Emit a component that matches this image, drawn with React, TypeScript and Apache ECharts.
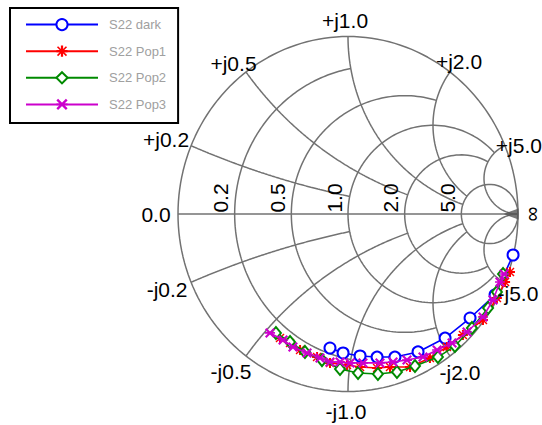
import React, { useEffect, useRef } from 'react';
import * as echarts from 'echarts';

// ---- data: S22 reflection coefficients (real / imaginary parts) ----
const seriesNames = ['S22 dark', 'S22 Pop1', 'S22 Pop2', 'S22 Pop3'];

const darkRe = [-0.106, -0.029, 0.071, 0.171, 0.276, 0.412, 0.571, 0.718, 0.865, 0.971];
const darkIm = [-0.755, -0.783, -0.8, -0.806, -0.806, -0.777, -0.699, -0.586, -0.456, -0.231];

const pop1Re = [-0.4, -0.341, -0.282, -0.182, -0.106, -0.006, 0.071, 0.171, 0.247, 0.365, 0.482, 0.582, 0.676, 0.794, 0.876, 0.924, 0.953];
const pop1Im = [-0.699, -0.727, -0.766, -0.806, -0.839, -0.851, -0.862, -0.868, -0.862, -0.862, -0.811, -0.749, -0.682, -0.597, -0.473, -0.383, -0.327];

const pop2Re = [-0.424, -0.341, -0.253, -0.153, -0.047, 0.059, 0.176, 0.288, 0.394, 0.529, 0.629, 0.729, 0.824, 0.876, 0.912];
const pop2Im = [-0.67, -0.721, -0.777, -0.823, -0.873, -0.896, -0.901, -0.89, -0.856, -0.806, -0.744, -0.642, -0.53, -0.439, -0.338];

const pop3Re = [-0.459, -0.382, -0.324, -0.241, -0.165, -0.106, -0.047, 0.012, 0.088, 0.188, 0.265, 0.347, 0.441, 0.524, 0.612, 0.7, 0.794, 0.853, 0.894, 0.918];
const pop3Im = [-0.67, -0.71, -0.749, -0.783, -0.811, -0.834, -0.834, -0.839, -0.839, -0.839, -0.834, -0.823, -0.806, -0.766, -0.727, -0.665, -0.58, -0.485, -0.383, -0.338];

// ---- Smith grid definition ----
const gridValues = [0.2, 0.5, 1.0, 2.0, 5.0];
const gridLimits = [1, 2, 5, 5, Infinity]; // extent of each circle / arc
const resistanceLabels = ['0.2', '0.5', '1.0', '2.0', '5.0'];
const posReactanceLabels = ['+j0.2', '+j0.5', '+j1.0', '+j2.0', '+j5.0'];
const negReactanceLabels = ['-j0.2', '-j0.5', '-j1.0', '-j2.0', '-j5.0'];
const zeroLabel = '0.0';
const infLabel = '\u221E';

// ---- layout / style ----
const W = 542;
const H = 425;
const GRID = { left: 178, top: 36.5, width: 340, height: 355 };
const POS_OFF = [[-25, -6], [-12.5, -8.5], [-3, -16.5], [9, -11], [14, 0]];
const NEG_OFF = [[-24, 7], [-15, 15], [-2, 20], [10, 16], [13, 11]];
const RES_OFF = [-14, -16];
const GRID_COLOR = '#727272';
const FONT = '21px "Liberation Sans", Arial, sans-serif';

const gamma = (r: number, x: number): [number, number] => {
  if (!isFinite(r)) return [1, 0];
  const den = (r + 1) * (r + 1) + x * x;
  return [(r * r - 1 + x * x) / den, (2 * x) / den];
};

function resistanceCircle(r: number, xLim: number): [number, number][] {
  const sMax = isFinite(xLim) ? Math.atan(xLim) : Math.PI / 2;
  const pts: [number, number][] = [];
  const N = 180;
  for (let i = 0; i <= N; i++) {
    const s = -sMax + (2 * sMax * i) / N;
    const x = Math.abs(Math.abs(s) - Math.PI / 2) < 1e-9 ? (s > 0 ? 1e9 : -1e9) : Math.tan(s);
    pts.push(gamma(r, x));
  }
  return pts;
}

function reactanceArc(x: number, rLim: number): [number, number][] {
  const tMax = isFinite(rLim) ? rLim / (1 + rLim) : 1;
  const pts: [number, number][] = [];
  const N = 160;
  for (let i = 0; i <= N; i++) {
    const t = (tMax * i) / N;
    const r = t >= 1 ? Infinity : t / (1 - t);
    pts.push(gamma(r, x));
  }
  return pts;
}

const zip = (a: number[], b: number[]) => a.map((v, i) => [v, b[i]]);

const starPath =
  'path://M4,0 L6,0 L6,10 L4,10 Z M0,4 L10,4 L10,6 L0,6 Z M1.5,0.5 L9.5,8.5 L8.5,9.5 L0.5,1.5 Z M8.5,0.5 L9.5,1.5 L1.5,9.5 L0.5,8.5 Z';
const xPath =
  'path://M0,1.5 L1.5,0 L10,8.5 L8.5,10 Z M8.5,0 L10,1.5 L1.5,10 L0,8.5 Z M0,4.2 L10,4.2 L10,5.8 L0,5.8 Z';
const triPath = 'path://M0,5 L10,0 L10,10 Z';

export default function App() {
  const ref = useRef<HTMLDivElement>(null);

  useEffect(() => {
    if (!ref.current) return;
    const chart = echarts.init(ref.current, null, { renderer: 'svg' });

    const gridSeries: any[] = [];
    const gridLine = (data: [number, number][]) => ({
      type: 'line',
      data,
      showSymbol: false,
      symbol: 'none',
      silent: true,
      clip: false,
      z: 1,
      lineStyle: { color: GRID_COLOR, width: 1.5 },
      emphasis: { disabled: true },
    });
    gridSeries.push(gridLine(resistanceCircle(0, Infinity)));
    gridSeries.push(gridLine([gamma(0, 0), gamma(Infinity, 0)]));
    gridValues.forEach((v, i) => {
      gridSeries.push(gridLine(resistanceCircle(v, gridLimits[i])));
      gridSeries.push(gridLine(reactanceArc(v, gridLimits[i])));
      gridSeries.push(gridLine(reactanceArc(-v, gridLimits[i])));
    });

    const dataSeries = [
      {
        name: seriesNames[0],
        data: zip(darkRe, darkIm),
        color: '#0000ff',
        symbol: 'emptyCircle',
        symbolSize: 11,
      },
      {
        name: seriesNames[1],
        data: zip(pop1Re, pop1Im),
        color: '#ff0000',
        symbol: starPath,
        symbolSize: 10,
      },
      {
        name: seriesNames[2],
        data: zip(pop2Re, pop2Im),
        color: '#008a00',
        symbol: 'emptyDiamond',
        symbolSize: [10, 12],
      },
      {
        name: seriesNames[3],
        data: zip(pop3Re, pop3Im),
        color: '#cc00cc',
        symbol: xPath,
        symbolSize: 10,
      },
    ].map((s, i) => ({
      type: 'line',
      name: s.name,
      data: s.data,
      symbol: s.symbol,
      symbolSize: s.symbolSize,
      showAllSymbol: true,
      clip: false,
      z: 3 + i,
      itemStyle: { color: s.color, borderWidth: 1.6 },
      lineStyle: { color: s.color, width: 1.6 },
    }));

    const infMarker = {
      type: 'scatter',
      name: 'inf',
      data: [gamma(Infinity, 0)],
      symbol: triPath,
      symbolSize: [15, 11],
      symbolOffset: [-7, 0],
      itemStyle: { color: '#555555' },
      silent: true,
      clip: false,
      z: 2,
    };

    chart.setOption({
      animation: false,
      backgroundColor: '#ffffff',
      grid: { left: GRID.left, top: GRID.top, width: GRID.width, height: GRID.height, containLabel: false },
      xAxis: { type: 'value', min: -1, max: 1, show: false, splitLine: { show: false } },
      yAxis: { type: 'value', min: -1, max: 1, show: false, splitLine: { show: false } },
      legend: {
        data: seriesNames,
        orient: 'vertical',
        left: 10,
        top: 8,
        padding: [10, 12, 12, 15],
        itemWidth: 72,
        itemHeight: 14,
        itemGap: 13.5,
        borderColor: '#000000',
        borderWidth: 2,
        backgroundColor: '#ffffff',
        textStyle: { color: '#a0a0a0', fontSize: 13, fontFamily: 'Liberation Sans, Arial, sans-serif', padding: [0, 0, 0, 6] },
        selectedMode: false,
      },
      series: [...gridSeries, infMarker, ...dataSeries],
    });

    const px = (p: [number, number]) => chart.convertToPixel({ gridIndex: 0 }, p) as number[];
    const txt = (text: string, x: number, y: number, rot = 0) => ({
      type: 'text',
      x,
      y,
      rotation: rot,
      z: 10,
      silent: true,
      style: { text, fill: '#000000', font: FONT, align: 'center', verticalAlign: 'middle' },
    });
    const graphics: any[] = [];
    gridValues.forEach((v, i) => {
      const p = px(gamma(0, v));
      graphics.push(txt(posReactanceLabels[i], p[0] + POS_OFF[i][0], p[1] + POS_OFF[i][1]));
      const q = px(gamma(0, -v));
      graphics.push(txt(negReactanceLabels[i], q[0] + NEG_OFF[i][0], q[1] + NEG_OFF[i][1]));
      const r = px(gamma(v, 0));
      graphics.push(txt(resistanceLabels[i], r[0] + RES_OFF[0], r[1] + RES_OFF[1], Math.PI / 2));
    });
    const z0 = px(gamma(0, 0));
    graphics.push(txt(zeroLabel, z0[0] - 22, z0[1]));
    const zi = px(gamma(Infinity, 0));
    graphics.push(txt(infLabel, zi[0] + 13, zi[1], Math.PI / 2));
    chart.setOption({ graphic: graphics });

    return () => chart.dispose();
  }, []);

  return (
    <div
      ref={ref}
      style={{ position: 'fixed', left: 0, top: 0, width: W, height: H, background: '#fff' }}
    />
  );
}
